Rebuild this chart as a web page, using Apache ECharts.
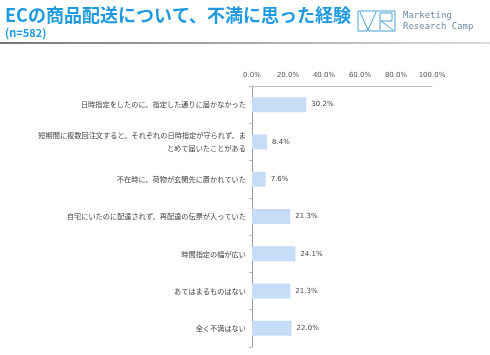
<!DOCTYPE html>
<html>
<head>
<meta charset="utf-8">
<script src="https://cdn.jsdelivr.net/npm/echarts@6/dist/echarts.min.js"></script>
<style>
  html, body { margin: 0; padding: 0; background: #fff; }
  #main { width: 490px; height: 355px; }
</style>
</head>
<body>
<div id="main"></div>
<script>
// 質問項目
var categories = [
    '日時指定をしたのに、指定した通りに届かなかった',
    '短期間に複数回注文すると、それぞれの日時指定が守られず、ま\nとめて届いたことがある',
    '不在時に、荷物が玄関先に置かれていた',
    '自宅にいたのに配達されず、再配達の伝票が入っていた',
    '時間指定の幅が広い',
    'あてはまるものはない',
    '全く不満はない'
];
// 回答割合 (%)
var values = [30.2, 8.4, 7.6, 21.3, 24.1, 21.3, 22.0];
var ticks = [0, 20, 40, 60, 80, 100];

var myChart = echarts.init(document.getElementById('main'));

var jpFont = '"Noto Sans CJK JP", sans-serif';

var option = {
    animation: false,
    textStyle: { fontFamily: jpFont },
    graphic: [
        // タイトル
        { type: 'text', left: 5, top: 6,
          style: { text: 'ECの商品配送について、不満に思った経験', fill: '#1f9ae0',
                   font: 'bold 18px ' + jpFont } },
        { type: 'text', left: 5, top: 27,
          style: { text: '(n=582)', fill: '#1f9ae0', font: 'bold 11px ' + jpFont } },
        // 区切り線
        { type: 'rect', shape: { x: 0, y: 42, width: 490, height: 2 },
          style: { fill: new echarts.graphic.LinearGradient(0, 0, 1, 0, [
              { offset: 0, color: '#777' }, { offset: 1, color: '#ddd' }]) } },
        // ロゴ
        { type: 'rect', shape: { x: 358, y: 11, width: 37, height: 20 },
          style: { fill: 'none', stroke: '#4aa3d6', lineWidth: 1 } },
        { type: 'polyline', shape: { points: [[360, 12], [368, 30], [376, 12]] },
          style: { fill: 'none', stroke: '#4aa3d6', lineWidth: 1 } },
        { type: 'polyline', shape: { points: [[380, 30], [380, 13], [392, 13], [392, 21], [381, 21], [393, 30]] },
          style: { fill: 'none', stroke: '#4aa3d6', lineWidth: 1 } },
        { type: 'text', left: 403, top: 11,
          style: { text: 'Marketing', fill: '#6d8aa6', font: '9px "DejaVu Sans Mono", monospace' } },
        { type: 'text', left: 403, top: 22,
          style: { text: 'Research Camp', fill: '#6d8aa6', font: '9px "DejaVu Sans Mono", monospace' } }
    ],
    grid: { left: 252, right: 58, top: 86, bottom: 8, containLabel: false },
    xAxis: {
        type: 'value',
        position: 'top',
        min: ticks[0],
        max: ticks[ticks.length - 1],
        interval: 20,
        axisLine: { show: true, lineStyle: { color: '#bbb' } },
        axisTick: { show: false },
        splitLine: { show: false },
        axisLabel: {
            color: '#555', fontSize: 7, margin: 7,
            fontFamily: 'Verdana, "DejaVu Sans", sans-serif',
            formatter: function (v) { return v.toFixed(1) + '%'; }
        }
    },
    yAxis: {
        type: 'category',
        inverse: true,
        data: categories,
        axisLine: { show: true, lineStyle: { color: '#999' } },
        axisTick: { show: true, length: 3, lineStyle: { color: '#bbb' } },
        axisLabel: { color: '#444', fontSize: 7.2, margin: 6, lineHeight: 13, align: 'right' }
    },
    series: [{
        type: 'bar',
        data: values,
        barWidth: 15,
        itemStyle: { color: '#c6dcf7' },
        label: {
            show: true,
            position: 'right',
            distance: 5,
            color: '#444',
            fontSize: 7,
            fontFamily: 'Verdana, "DejaVu Sans", sans-serif',
            formatter: function (p) { return p.value.toFixed(1) + '%'; }
        }
    }]
};

myChart.setOption(option);
</script>
</body>
</html>
